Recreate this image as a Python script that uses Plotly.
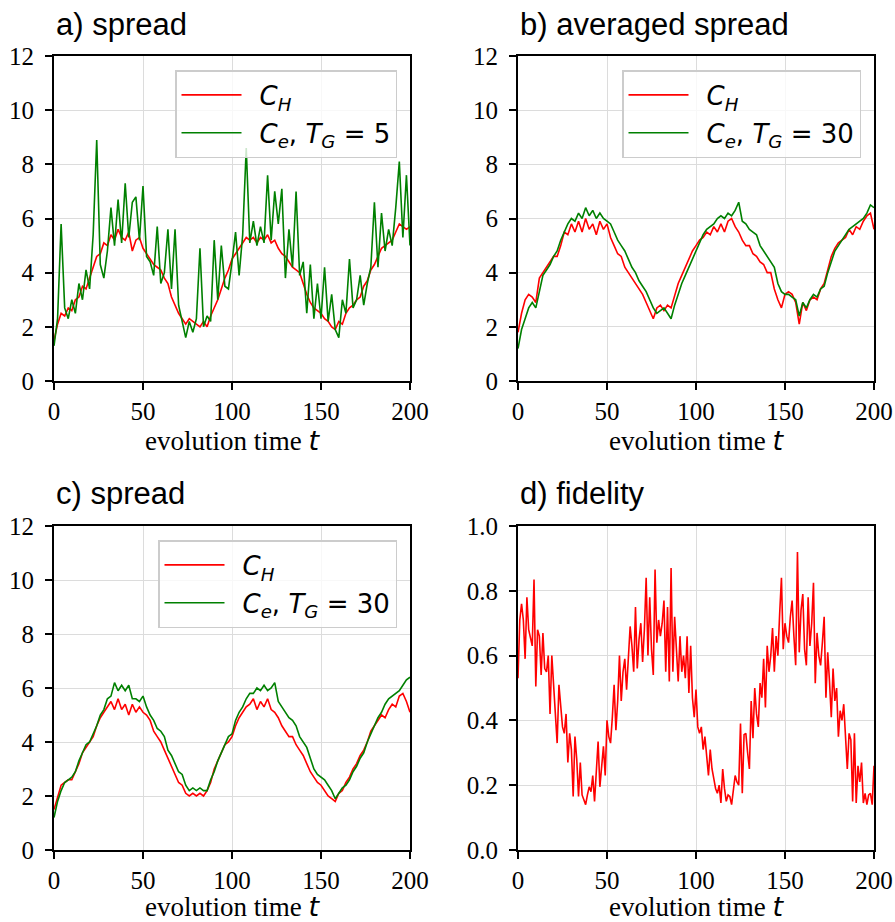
import plotly.graph_objects as go

# ---------------- data ----------------
# spread series sampled at t = 0, 2, 4, ..., 200
CH_a = [1.5, 2.1, 2.5, 2.4, 2.7, 2.6, 3.0, 3.1, 3.5, 3.4, 3.8, 4.2, 4.6, 4.7, 5.1, 5.0, 5.4, 5.2, 5.6, 5.3,
        5.2, 5.5, 4.8, 5.2, 5.3, 4.9, 4.7, 4.5, 4.3, 4.2, 4.1, 3.8, 3.6, 3.1, 2.8, 2.5, 2.3, 2.1, 2.3, 2.2,
        2.1, 2.0, 2.2, 2.0, 2.4, 2.7, 3.0, 3.4, 3.8, 4.1, 4.5, 4.7, 4.9, 5.1, 5.3, 5.2, 5.3, 5.1, 5.3, 5.2,
        5.4, 5.1, 5.2, 4.9, 4.7, 4.6, 4.4, 4.2, 4.1, 4.0, 3.6, 3.2, 2.9, 2.7, 2.6, 2.5, 2.3, 2.2, 2.0, 1.9,
        2.2, 2.1, 2.5, 2.7, 2.8, 3.0, 3.1, 3.5, 3.7, 4.1, 4.3, 4.6, 4.9, 5.0, 5.1, 5.2, 5.5, 5.8, 5.7, 5.6,
        5.7]
Ce_a = [1.3, 2.3, 5.8, 2.7, 2.3, 3.0, 2.5, 3.6, 3.0, 4.1, 3.4, 5.4, 8.9, 4.3, 3.8, 4.8, 6.4, 5.0, 6.7, 5.1,
        7.3, 5.3, 6.6, 6.8, 5.2, 7.2, 4.6, 4.4, 3.9, 5.7, 3.6, 4.0, 5.6, 3.4, 5.6, 2.8, 2.2, 1.6, 2.2, 1.8,
        2.3, 4.9, 2.0, 2.4, 2.2, 5.2, 3.0, 5.0, 3.5, 3.4, 4.4, 5.5, 3.9, 5.4, 8.6, 5.1, 5.9, 5.0, 5.7, 5.1,
        7.6, 5.2, 7.0, 5.8, 7.1, 3.8, 5.6, 4.2, 7.0, 3.9, 4.4, 2.5, 4.3, 2.3, 3.6, 2.3, 4.2, 2.2, 3.2, 1.9,
        1.6, 3.0, 2.5, 4.5, 2.7, 3.0, 3.9, 2.8, 3.6, 4.2, 6.6, 4.2, 6.2, 4.8, 5.6, 5.0, 6.4, 8.1, 5.3, 7.6,
        5.0]
CH_b = [1.8, 2.5, 3.0, 3.2, 3.1, 2.9, 3.8, 4.0, 4.2, 4.4, 4.6, 4.6, 5.0, 5.5, 5.4, 5.8, 5.5, 5.9, 5.5, 6.0,
        5.6, 5.8, 5.4, 5.9, 5.6, 5.8, 5.3, 5.0, 4.7, 4.6, 4.2, 4.0, 3.8, 3.6, 3.4, 3.2, 2.9, 2.6, 2.3, 2.7,
        2.8, 2.6, 2.8, 2.7, 3.2, 3.6, 3.9, 4.2, 4.5, 4.8, 5.0, 5.2, 5.3, 5.5, 5.4, 5.7, 5.5, 5.8, 5.5, 5.9,
        6.0, 5.7, 5.5, 5.2, 5.0, 5.0, 4.7, 4.6, 4.4, 4.3, 4.0, 4.0, 3.4, 3.0, 2.7, 3.2, 3.3, 3.2, 2.9, 2.1,
        2.9, 2.6, 3.0, 3.1, 3.0, 3.4, 3.6, 4.1, 4.6, 4.9, 5.1, 5.2, 5.3, 5.6, 5.4, 5.7, 5.6, 5.9, 6.1, 6.2,
        5.6]
Ce_b = [1.2, 1.9, 2.3, 2.7, 2.9, 2.7, 3.3, 3.9, 4.1, 4.3, 4.6, 4.8, 5.2, 5.5, 5.8, 6.0, 5.9, 6.2, 6.0, 6.4,
        6.1, 6.3, 6.0, 6.2, 6.0, 5.9, 5.8, 5.5, 5.2, 5.0, 4.8, 4.5, 4.2, 4.0, 3.7, 3.5, 3.3, 3.0, 2.7, 2.5,
        2.6, 2.7, 2.5, 2.3, 2.8, 3.2, 3.6, 3.9, 4.2, 4.5, 4.8, 5.1, 5.4, 5.6, 5.7, 5.8, 6.0, 6.1, 6.0, 6.2,
        6.1, 6.3, 6.6, 5.9, 5.8, 5.6, 5.5, 5.4, 5.0, 4.8, 4.6, 4.4, 4.2, 3.6, 3.3, 3.2, 3.2, 3.1, 3.0, 2.4,
        2.9, 2.7, 3.0, 3.2, 3.1, 3.4, 3.5, 4.0, 4.4, 4.8, 5.0, 5.2, 5.4, 5.6, 5.7, 5.8, 5.9, 6.0, 6.2, 6.5,
        6.4]
CH_c = [1.5, 2.0, 2.4, 2.5, 2.6, 2.6, 2.9, 3.2, 3.6, 3.8, 4.0, 4.2, 4.6, 4.9, 5.1, 5.3, 5.5, 5.2, 5.6, 5.2,
        5.4, 5.0, 5.4, 5.1, 5.3, 5.1, 5.0, 4.8, 4.4, 4.2, 4.0, 3.7, 3.4, 3.1, 2.8, 2.5, 2.4, 2.1, 2.0, 2.1,
        2.0, 2.1, 2.0, 2.2, 2.5, 3.0, 3.3, 3.6, 3.9, 4.0, 4.2, 4.6, 4.9, 5.1, 5.3, 5.4, 5.6, 5.2, 5.5, 5.3,
        5.6, 5.2, 5.1, 4.9, 4.6, 4.4, 4.2, 4.2, 3.9, 3.7, 3.5, 3.2, 2.9, 2.7, 2.5, 2.4, 2.2, 2.0, 1.9, 1.8,
        2.1, 2.2, 2.5, 2.7, 3.0, 3.2, 3.5, 3.7, 4.0, 4.4, 4.6, 4.8, 5.0, 4.9, 5.2, 5.4, 5.3, 5.7, 5.8, 5.5,
        5.1]
Ce_c = [1.2, 1.8, 2.2, 2.5, 2.6, 2.7, 2.9, 3.3, 3.6, 3.9, 4.0, 4.3, 4.6, 5.0, 5.2, 5.6, 5.7, 6.2, 5.9, 6.1,
        5.9, 6.1, 5.6, 5.6, 5.5, 5.7, 5.3, 5.0, 4.8, 4.5, 4.4, 4.2, 3.7, 3.5, 3.2, 2.9, 2.8, 2.4, 2.2, 2.3,
        2.2, 2.3, 2.2, 2.2, 2.6, 2.9, 3.3, 3.6, 3.9, 4.2, 4.3, 4.8, 5.1, 5.3, 5.6, 5.8, 5.8, 6.0, 5.9, 6.1,
        5.9, 6.0, 6.2, 5.5, 5.3, 5.1, 4.9, 4.8, 4.6, 4.2, 4.0, 3.8, 3.4, 3.0, 2.8, 2.7, 2.6, 2.4, 2.2, 1.9,
        2.1, 2.3, 2.4, 2.6, 2.9, 3.1, 3.4, 3.6, 4.0, 4.3, 4.6, 4.9, 5.1, 5.4, 5.6, 5.7, 5.8, 5.9, 6.1, 6.3,
        6.4]
# fidelity sampled at t = 0, 1, 2, ..., 200
F_d = [0.53, 0.71, 0.76, 0.71, 0.59, 0.78, 0.68, 0.65, 0.63, 0.835,
       0.505, 0.68, 0.66, 0.54, 0.67, 0.56, 0.55, 0.60, 0.42, 0.60,
       0.50, 0.44, 0.33, 0.51, 0.45, 0.38, 0.36, 0.42, 0.27, 0.36,
       0.31, 0.165, 0.35, 0.28, 0.165, 0.27, 0.17, 0.155, 0.14, 0.17,
       0.195, 0.18, 0.23, 0.15, 0.24, 0.335, 0.195, 0.26, 0.32, 0.23,
       0.40, 0.35, 0.33, 0.41, 0.51, 0.37, 0.46, 0.60, 0.46, 0.55,
       0.59, 0.495, 0.58, 0.69, 0.63, 0.55, 0.75, 0.56, 0.65, 0.70,
       0.58, 0.68, 0.84, 0.60, 0.78, 0.62, 0.54, 0.866, 0.64, 0.71,
       0.66, 0.70, 0.77, 0.55, 0.75, 0.52, 0.87, 0.55, 0.72, 0.62,
       0.52, 0.66, 0.55, 0.60, 0.53, 0.66, 0.485, 0.63, 0.47, 0.41,
       0.495, 0.38, 0.36, 0.38, 0.31, 0.35, 0.30, 0.23, 0.31, 0.25,
       0.22, 0.19, 0.175, 0.20, 0.145, 0.25, 0.19, 0.15, 0.17, 0.165,
       0.14, 0.19, 0.23, 0.21, 0.20, 0.39, 0.175, 0.356, 0.36, 0.30,
       0.25, 0.46, 0.345, 0.50, 0.42, 0.38, 0.515, 0.47, 0.59, 0.44,
       0.63, 0.55, 0.60, 0.685, 0.55, 0.66, 0.60, 0.73, 0.84, 0.62,
       0.70, 0.66, 0.64, 0.72, 0.77, 0.66, 0.57, 0.92, 0.61, 0.74,
       0.79, 0.62, 0.57, 0.78, 0.63, 0.70, 0.825, 0.515, 0.67, 0.60,
       0.57, 0.64, 0.72, 0.47, 0.61, 0.52, 0.41, 0.56, 0.46, 0.50,
       0.35, 0.43, 0.40, 0.45, 0.36, 0.25, 0.36, 0.34, 0.15, 0.36,
       0.145, 0.26, 0.21, 0.27, 0.145, 0.175, 0.14, 0.17, 0.175, 0.14,
       0.26]

titles = ["a) spread", "b) averaged spread", "c) spread", "d) fidelity"]
x_ticks = [0, 50, 100, 150, 200]
y_ticks = [0, 2, 4, 6, 8, 10, 12]
f_ticks = [0.0, 0.2, 0.4, 0.6, 0.8, 1.0]
TG = ["5", "30", "30"]

RED = "#ff0000"
GREEN = "#008000"
SERIF = "Liberation Serif"
SANS = "Liberation Sans"
MATH = "DejaVu Sans"


def tgrid(vals, step):
    return [step * i for i in range(len(vals))]


W, H = 895, 922
ML, MT = 54, 56
MR = W - 874
MB = H - 850
PW, PH = W - ML - MR, H - MT - MB


def px(x):
    """screen pixel x -> paper fraction"""
    return (x - ML) / PW


def py(y):
    """screen pixel y -> paper fraction"""
    return (H - MB - y) / PH


# plot-area pixel boxes (left, top, right, bottom)
boxes = [(54, 56, 410, 381), (518, 56, 874, 381), (54, 526, 410, 850), (518, 526, 874, 850)]

fig = go.Figure()

series = [(CH_a, Ce_a), (CH_b, Ce_b), (CH_c, Ce_c)]
for k, (ch, ce) in enumerate(series):
    ax = "" if k == 0 else str(k + 1)
    lg = "legend" if k == 0 else "legend" + str(k + 1)
    fig.add_trace(go.Scatter(x=tgrid(ch, 2), y=ch, mode="lines", line=dict(color=RED, width=1.6),
                             name="\u2002<i>C</i><sub><i>H</i></sub>", xaxis="x" + ax, yaxis="y" + ax,
                             legend=lg, legendgroup="h%d" % k))
    fig.add_trace(go.Scatter(x=tgrid(ce, 2), y=ce, mode="lines", line=dict(color=GREEN, width=1.6),
                             name="\u2002<i>C</i><sub><i>e</i></sub>, <i>T</i><sub><i>G</i></sub> = " + TG[k],
                             xaxis="x" + ax, yaxis="y" + ax, legend=lg, legendgroup="e%d" % k))

fig.add_trace(go.Scatter(x=tgrid(F_d, 1), y=F_d, mode="lines", line=dict(color=RED, width=1.6),
                         showlegend=False, xaxis="x4", yaxis="y4"))

axis_common = dict(showline=True, linecolor="black", linewidth=1.8, mirror=True,
                   ticks="outside", ticklen=7, tickwidth=1.5, tickcolor="black",
                   showgrid=True, gridcolor="#dcdcdc", gridwidth=1, zeroline=False,
                   automargin=False, ticklabeloverflow="allow",
                   tickfont=dict(family=SERIF, size=25, color="black"))

layout = dict(width=W, height=H, margin=dict(l=ML, r=MR, t=MT, b=MB, autoexpand=False),
              plot_bgcolor="white", paper_bgcolor="white", showlegend=True)

for k, (l, t, r, b) in enumerate(boxes):
    ax = "" if k == 0 else str(k + 1)
    xd = [max(0.0, px(l)), min(1.0, px(r))]
    yd = [max(0.0, py(b)), min(1.0, py(t))]
    layout["xaxis" + ax] = dict(axis_common, domain=xd, range=[0, 200], tickvals=x_ticks,
                                anchor="y" + ax, ticklabelstandoff=0,
                                title=dict(text="evolution time <span style='font-family:DejaVu Sans'><i>t</i></span>",
                                           font=dict(family=SERIF, size=27, color="black"), standoff=1))
    if k < 3:
        layout["yaxis" + ax] = dict(axis_common, domain=yd, range=[0, 12], tickvals=y_ticks,
                                    anchor="x" + ax, ticklabelstandoff=6)
    else:
        layout["yaxis" + ax] = dict(axis_common, domain=yd, range=[0, 1], tickvals=f_ticks,
                                    tickformat=".1f", anchor="x" + ax, ticklabelstandoff=6)

legend_pos = [(397, 70), (861, 70), (397, 540)]
for k, (xr, yt) in enumerate(legend_pos):
    key = "legend" if k == 0 else "legend" + str(k + 1)
    layout[key] = dict(x=px(xr), y=py(yt), xanchor="right", yanchor="top",
                       bgcolor="rgba(255,255,255,0.8)", bordercolor="#cccccc", borderwidth=1.5,
                       font=dict(family=MATH, size=26, color="black"), itemwidth=60,
                       traceorder="grouped", tracegroupgap=1)

fig.update_layout(**layout)

for k, (l, t, r, b) in enumerate(boxes):
    fig.add_annotation(text=titles[k], xref="paper", yref="paper", x=px(l), y=py(t - 32),
                       xanchor="left", yanchor="middle", showarrow=False,
                       font=dict(family=SANS, size=31, color="black"))

fig.write_html("out.html", config={"displayModeBar": False},
               post_script="document.body.style.margin='0px';document.body.style.overflow='hidden';")
